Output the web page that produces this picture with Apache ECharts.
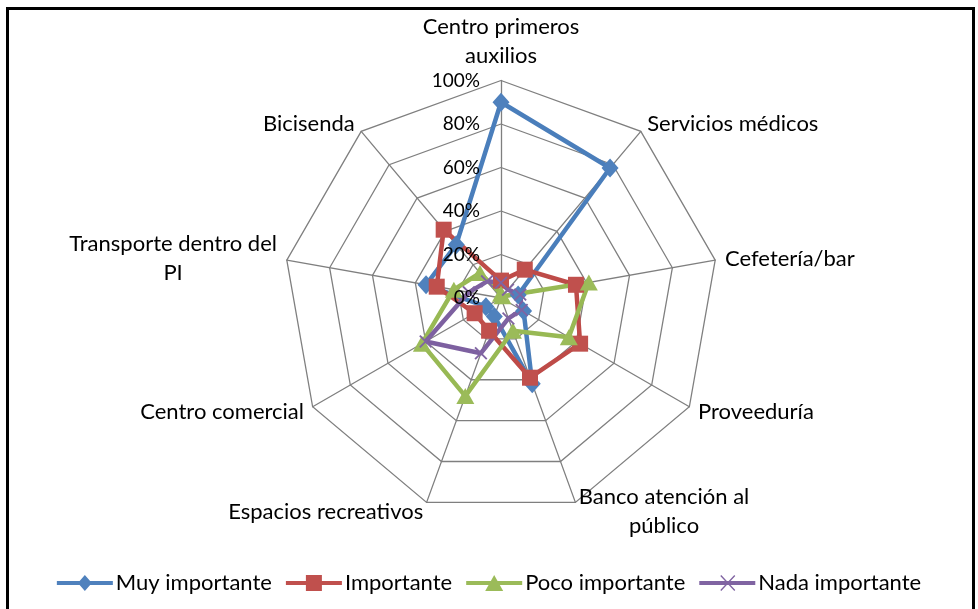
<!DOCTYPE html>
<html>
<head>
<meta charset="utf-8">
<script src="https://cdn.jsdelivr.net/npm/echarts@6/dist/echarts.min.js"></script>
<style>
html, body { margin: 0; padding: 0; background: #fff; overflow: hidden; }
#chart { position: absolute; left: 0; top: 0; width: 978px; height: 609px; }
.frame { position: absolute; left: 6px; top: 7px; width: 969px; height: 700px; border: 3px solid #000; box-sizing: border-box; pointer-events: none; }
</style>
</head>
<body>
<div id="chart"></div>
<div class="frame"></div>
<script>
// categorías (en sentido horario desde arriba)
var categories = [
  "Centro primeros\nauxilios",
  "Servicios médicos",
  "Cefetería/bar",
  "Proveeduría",
  "Banco atención al\npúblico",
  "Espacios recreativos",
  "Centro comercial",
  "Transporte dentro del\nPI",
  "Bicisenda"
];
var seriesNames = ["Muy importante", "Importante", "Poco importante", "Nada importante"];

// valores en %
var muyImportante = [90, 78, 8, 12, 42, 9, 8, 35, 32];
var importante = [8, 17, 35, 42, 39, 16, 14, 30, 41];
var pocoImportante = [2, 1, 41, 36, 16, 48, 42, 22, 15];
var nadaImportante = [7, 5, 9, 11, 10, 27, 40, 15, 10];

var FONT = "Lato";
var GRID = "#7f7f7f";
var lineColors = ["#4A7EBB", "#BE4B48", "#98B954", "#7D60A0"];
var markColors = ["#4F81BD", "#C0504D", "#9BBB59", "#8064A2"];
var xPath = "path://M0,1L1,0L10,9L9,10Z M9,0L10,1L1,10L0,9Z";
var symbols = ["diamond", "rect", "triangle", xPath];
var symbolSizes = [[17, 19], 16, [18, 16], 13];

// iconos de leyenda: línea + marcador
var legendIcons = [
  "path://M0,6H56V10H0Z M28,0L35,8L28,16L21,8Z",
  "path://M0,6H56V10H0Z M20,0H36V16H20Z",
  "path://M0,6H56V10H0Z M28,0L37,16H19Z",
  "path://M0,6H56V10H0Z M21,1L22,0L36,15L35,16Z M35,0L36,1L22,16L21,15Z"
];

// ECharts dibuja el radar en sentido antihorario: invertir el orden
var order = [0];
for (var i = categories.length - 1; i >= 1; i--) order.push(i);
function reorder(arr) {
  return order.map(function (k) { return arr[k]; });
}

var indicator = reorder(categories).map(function (c) {
  return { name: c, min: 0, max: 100 };
});
// segundo radar solo para las etiquetas 0%..100% (encima de las series)
var labelIndicator = reorder(categories).map(function (c, i) {
  var ind = { name: "", min: 0, max: 100 };
  if (i === 0) {
    ind.axisLabel = {
      show: true,
      formatter: "{value}%",
      margin: 21,
      color: "#000",
      fontFamily: FONT,
      fontSize: 19
    };
  }
  return ind;
});

var allValues = [muyImportante, importante, pocoImportante, nadaImportante];

var chart = echarts.init(document.getElementById("chart"));
var option = {
  animation: false,
  legend: {
    bottom: 10,
    left: "center",
    itemWidth: 56,
    itemHeight: 16,
    itemGap: 14,
    textStyle: { color: "#000", fontFamily: FONT, fontSize: 22, padding: [0, 0, 0, -2] },
    data: seriesNames.map(function (n, i) {
      return { name: n, icon: legendIcons[i] };
    })
  },
  radar: [
    {
      center: [501, 298],
      radius: 217.5,
      startAngle: 90,
      splitNumber: 5,
      shape: "polygon",
      nameGap: 10,
      indicator: indicator,
      axisName: {
        color: "#000",
        fontFamily: FONT,
        fontSize: 22,
        formatter: function (name) {
          return name.split("\n").map(function (l) { return "{c|" + l + "}"; }).join("\n");
        },
        rich: {
          c: { align: "center", color: "#000", fontFamily: FONT, fontSize: 22, lineHeight: 29 }
        }
      },
      axisLine: { lineStyle: { color: GRID, width: 1.3 } },
      splitLine: { lineStyle: { color: GRID, width: 1.3 } },
      splitArea: { show: false },
      axisTick: { show: false },
      axisLabel: { show: false }
    },
    {
      z: 10,
      center: [501, 298],
      radius: 217.5,
      startAngle: 90,
      splitNumber: 5,
      shape: "polygon",
      indicator: labelIndicator,
      axisName: { show: false },
      axisLine: { show: false },
      splitLine: { show: false },
      splitArea: { show: false },
      axisTick: { show: false },
      axisLabel: { show: false }
    }
  ],
  series: [
    {
      type: "radar",
      radarIndex: 0,
      data: allValues.map(function (vals, i) {
        return {
          name: seriesNames[i],
          value: reorder(vals),
          symbol: symbols[i],
          symbolSize: symbolSizes[i],
          lineStyle: { color: lineColors[i], width: 4.5 },
          itemStyle: { color: markColors[i] }
        };
      })
    }
  ]
};
chart.setOption(option);
</script>
</body>
</html>
